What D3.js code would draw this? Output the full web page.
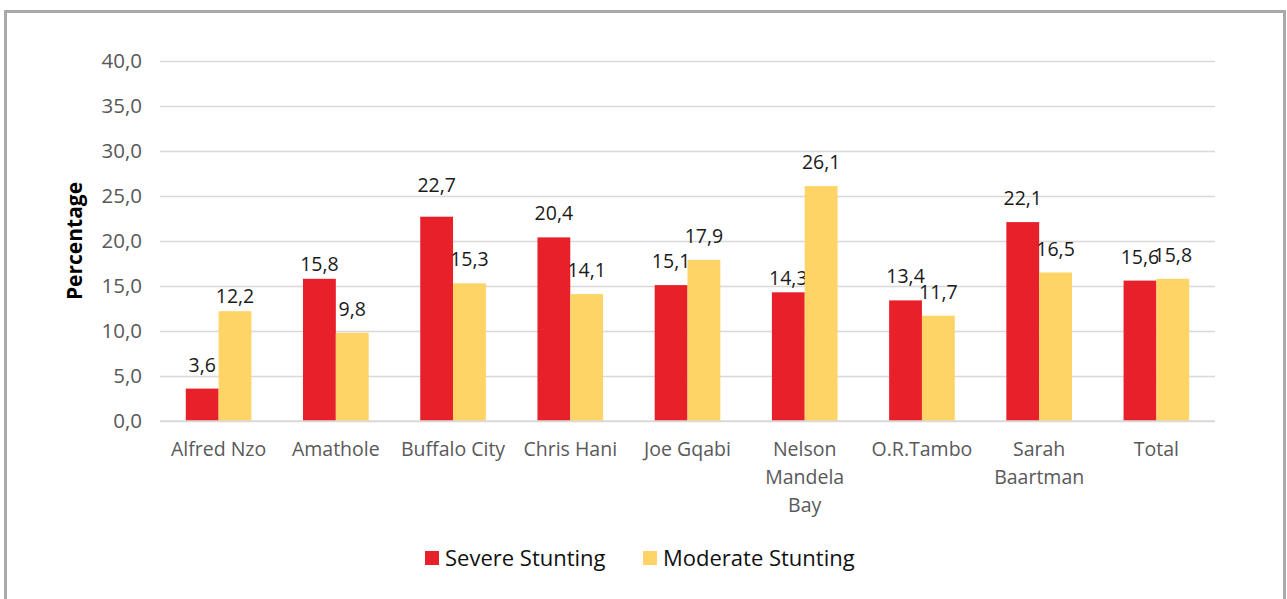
<!DOCTYPE html>
<html><head><meta charset="utf-8">
<script src="https://cdn.jsdelivr.net/npm/d3@7"></script>
<style>
html,body{margin:0;padding:0;background:#fff;}
svg{display:block;font-family:"Open Sans",sans-serif;}
</style></head>
<body>
<svg id="c" width="1287" height="599"></svg>
<script>
const categories = ["Alfred Nzo","Amathole","Buffalo City","Chris Hani","Joe Gqabi","Nelson Mandela Bay","O.R.Tambo","Sarah Baartman","Total"];
const categoryLines = [["Alfred Nzo"],["Amathole"],["Buffalo City"],["Chris Hani"],["Joe Gqabi"],["Nelson","Mandela","Bay"],["O.R.Tambo"],["Sarah","Baartman"],["Total"]];
const severe = [3.6,15.8,22.7,20.4,15.1,14.3,13.4,22.1,15.6];
const moderate = [12.2,9.8,15.3,14.1,17.9,26.1,11.7,16.5,15.8];
const seriesNames = ["Severe Stunting","Moderate Stunting"];
const yTicks = [0,5,10,15,20,25,30,35,40];
const colors = ["#e8202a","#fdd465"];
// per-label vertical nudges (px) as placed in the original
const severeLabelNudge = [0,9,-8,0,0,10,0,0,0];
const moderateLabelNudge = [9,0,0,0,0,0,0,0,0];

const svg = d3.select("#c");
// outer frame
svg.append("rect").attr("x",5.5).attr("y",11.5).attr("width",1279).attr("height",600)
  .attr("fill","none").attr("stroke","#a9a9a9").attr("stroke-width",3);

const pLeft=160, pRight=1215, pTop=61, pBottom=421;
const x = d3.scaleBand().domain(categories).range([pLeft,pRight]).paddingInner(0.44).paddingOuter(0.22);
const xs = d3.scaleBand().domain([0,1]).range([0,x.bandwidth()]);
const y = d3.scaleLinear().domain([0,40]).range([pBottom,pTop]);
const fmt = v => d3.format(".1f")(v).replace(".",",");

// gridlines + y tick labels
const yAxis = d3.axisLeft(y).tickValues(yTicks).tickSize(-(pRight-pLeft)).tickFormat(fmt).tickPadding(18);
const ga = svg.append("g").attr("transform",`translate(${pLeft},0)`).call(yAxis);
ga.select(".domain").remove();
ga.selectAll(".tick line").attr("stroke","#dcd8d6").attr("stroke-width",1.5);
ga.selectAll(".tick text").attr("fill","#595959").attr("font-size",20.5).attr("font-family","Open Sans, sans-serif");

// y title
svg.append("text").attr("transform",`translate(82,${(pTop+pBottom)/2}) rotate(-90)`)
  .attr("text-anchor","middle").attr("font-weight","bold").attr("font-size",21).attr("fill","#000")
  .text("Percentage");

const series=[severe,moderate];
const nudges=[severeLabelNudge,moderateLabelNudge];
series.forEach((vals,si)=>{
  const g = svg.append("g");
  g.selectAll("rect").data(vals).join("rect")
    .attr("x",(d,i)=>x(categories[i])+xs(si))
    .attr("y",d=>y(d))
    .attr("width",xs.bandwidth())
    .attr("height",d=>pBottom-y(d))
    .attr("fill",colors[si]);
  g.selectAll("text").data(vals).join("text")
    .attr("x",(d,i)=>x(categories[i])+xs(si)+xs.bandwidth()/2)
    .attr("y",(d,i)=>y(d)-17+nudges[si][i])
    .attr("text-anchor","middle").attr("font-size",19.5).attr("fill","#1a1a1a")
    .text(fmt);
});

// x axis baseline
svg.append("line").attr("x1",pLeft).attr("x2",pRight).attr("y1",pBottom).attr("y2",pBottom)
  .attr("stroke","#dcd8d6").attr("stroke-width",1.5);

// category labels
categories.forEach((c,i)=>{
  const t = svg.append("text").attr("text-anchor","middle").attr("font-size",19.5).attr("fill","#595959");
  categoryLines[i].forEach((ln,j)=>{
    t.append("tspan").attr("x",x(c)+x.bandwidth()/2).attr("y",456+j*28).text(ln);
  });
});

// legend
const legX=[425,643];
seriesNames.forEach((n,i)=>{
  svg.append("rect").attr("x",legX[i]).attr("y",551).attr("width",14).attr("height",14).attr("fill",colors[i]);
  svg.append("text").attr("x",legX[i]+20).attr("y",566).attr("font-size",22).attr("fill","#111").text(n);
});
</script>
</body></html>
